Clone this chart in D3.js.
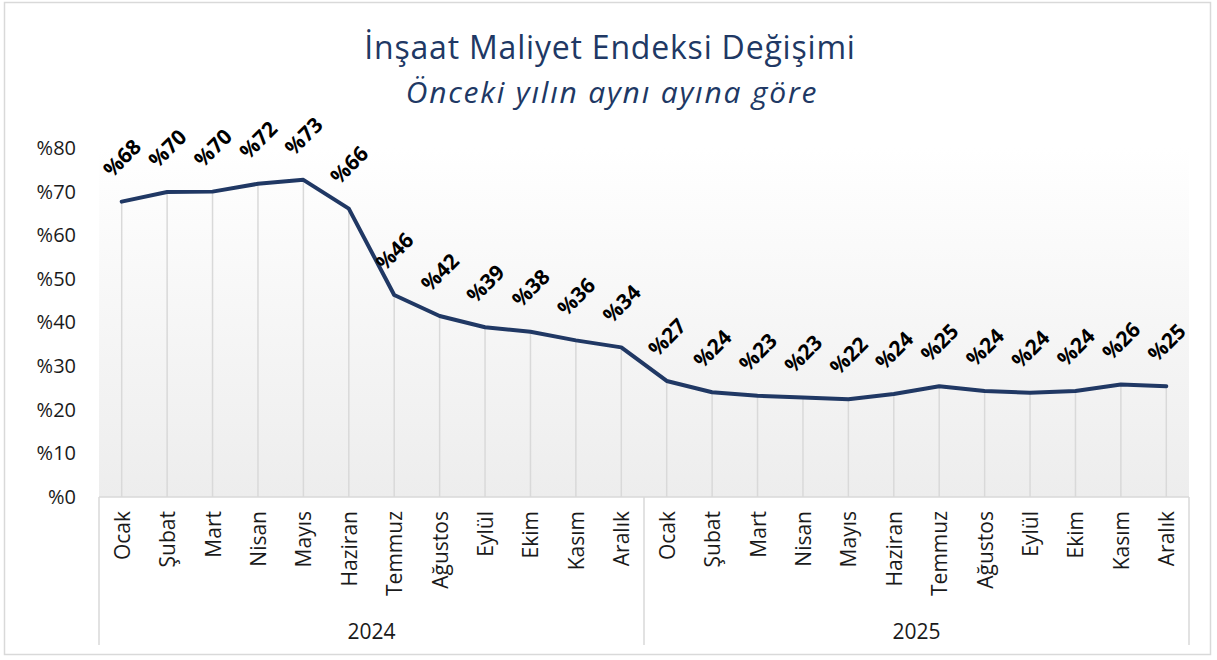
<!DOCTYPE html>
<html>
<head>
<meta charset="utf-8">
<script src="https://cdn.jsdelivr.net/npm/d3@7"></script>
<style>
  body { margin: 0; background: #fff; }
  text { font-family: "Open Sans", "Noto Sans", sans-serif; }
</style>
</head>
<body>
<div id="chart"></div>
<script>
const months = ['Ocak', 'Şubat', 'Mart', 'Nisan', 'Mayıs', 'Haziran', 'Temmuz', 'Ağustos', 'Eylül', 'Ekim', 'Kasım', 'Aralık']
const years = ['2024', '2025']
const values2024 = [67.7, 69.9, 70.0, 71.8, 72.7, 66.1, 46.3, 41.5, 38.9, 37.9, 35.9, 34.3]
const values2025 = [26.6, 24.0, 23.2, 22.8, 22.4, 23.6, 25.4, 24.3, 23.9, 24.3, 25.8, 25.4]
const yTicks = [0, 10, 20, 30, 40, 50, 60, 70, 80]

const width = 1217
const height = 660
const margin = { top: 148, right: 28, bottom: 163, left: 99 }
const innerW = 1189 - margin.left
const innerH = 497 - margin.top

// tablo: her ay için bir satır
const data = []
years.forEach((yr, i) => {
  const vals = i === 0 ? values2024 : values2025
  months.forEach((m, j) => data.push({ key: yr + '-' + m, month: m, year: yr, value: vals[j] }))
})

const svg = d3.select('#chart').append('svg').attr('width', width).attr('height', height)

// dış çerçeve
svg.append('rect')
  .attr('x', 4.5).attr('y', 2.5).attr('width', 1206).attr('height', 652)
  .attr('fill', '#fff').attr('stroke', '#d9d9d9').attr('stroke-width', 1.5)

const defs = svg.append('defs')
const grad = defs.append('linearGradient').attr('id', 'bg').attr('x1', 0).attr('y1', 0).attr('x2', 0).attr('y2', 1)
grad.append('stop').attr('offset', '0%').attr('stop-color', '#ffffff')
grad.append('stop').attr('offset', '100%').attr('stop-color', '#ededed')

// başlık
svg.append('text')
  .attr('x', 610).attr('y', 59)
  .attr('text-anchor', 'middle')
  .attr('font-size', 32)
  .attr('letter-spacing', 0.8)
  .attr('fill', '#203864')
  .text('İnşaat Maliyet Endeksi Değişimi')
svg.append('text')
  .attr('x', 612).attr('y', 103)
  .attr('text-anchor', 'middle')
  .attr('font-size', 30)
  .attr('letter-spacing', 1.8)
  .attr('font-style', 'italic')
  .attr('fill', '#203864')
  .text('Önceki yılın aynı ayına göre')

const g = svg.append('g').attr('transform', `translate(${margin.left},${margin.top})`)

const x = d3.scaleBand().domain(data.map(d => d.key)).range([0, innerW])
const y = d3.scaleLinear().domain([0, 80]).range([innerH, 0])
const cx = d => x(d.key) + x.bandwidth() / 2

g.append('rect').attr('width', innerW).attr('height', innerH).attr('fill', 'url(#bg)')

// y ekseni
const yAxis = d3.axisLeft(y).tickValues(yTicks).tickSize(0).tickPadding(23).tickFormat(d => '%' + d)
g.append('g').call(yAxis)
  .call(s => s.select('.domain').remove())
  .selectAll('text')
  .attr('font-size', 20)
  .attr('fill', '#1a1a1a')
  .attr('font-family', '"Open Sans", sans-serif')

// dikey düşme çizgileri
g.selectAll('.drop')
  .data(data)
  .enter()
  .append('line')
  .attr('class', 'drop')
  .attr('x1', cx).attr('x2', cx)
  .attr('y1', d => y(d.value)).attr('y2', innerH)
  .attr('stroke', '#d9d9d9').attr('stroke-width', 1.5)

// kategori ekseni (çok seviyeli)
const xAxisG = g.append('g').attr('transform', `translate(0,${innerH})`)
xAxisG.append('line').attr('x1', 0).attr('x2', innerW).attr('stroke', '#d9d9d9').attr('stroke-width', 1.5)
const yearBand = d3.scaleBand().domain(years).range([0, innerW])
const seps = [0, yearBand('2025'), innerW]
xAxisG.selectAll('.sep')
  .data(seps)
  .enter()
  .append('line')
  .attr('x1', d => d).attr('x2', d => d)
  .attr('y1', 0).attr('y2', 148)
  .attr('stroke', '#d9d9d9').attr('stroke-width', 1.5)

xAxisG.selectAll('.month')
  .data(data)
  .enter()
  .append('text')
  .attr('transform', d => `translate(${cx(d) + 8},14) rotate(-90)`)
  .attr('text-anchor', 'end')
  .attr('font-size', 21)
  .attr('fill', '#1a1a1a')
  .text(d => d.month)

xAxisG.selectAll('.year')
  .data(years)
  .enter()
  .append('text')
  .attr('x', d => yearBand(d) + yearBand.bandwidth() / 2)
  .attr('y', 142)
  .attr('text-anchor', 'middle')
  .attr('font-size', 21)
  .attr('fill', '#1a1a1a')
  .text(d => d)

// çizgi
const line = d3.line().x(cx).y(d => y(d.value))
g.append('path')
  .datum(data)
  .attr('d', line)
  .attr('fill', 'none')
  .attr('stroke', '#203864')
  .attr('stroke-width', 4)
  .attr('stroke-linejoin', 'round')
  .attr('stroke-linecap', 'round')

// veri etiketleri
g.selectAll('.lbl')
  .data(data)
  .enter()
  .append('text')
  .attr('transform', d => `translate(${cx(d)},${y(d.value) - 44}) rotate(-45)`)
  .attr('text-anchor', 'middle')
  .attr('dominant-baseline', 'central')
  .attr('font-size', 21)
  .attr('font-weight', 'bold')
  .attr('fill', '#000')
  .text(d => '%' + Math.round(d.value))
</script>
</body>
</html>
